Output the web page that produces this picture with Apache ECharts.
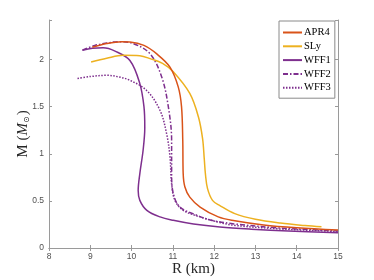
<!DOCTYPE html>
<html>
<head>
<meta charset="utf-8">
<script src="https://cdn.jsdelivr.net/npm/echarts@6/dist/echarts.min.js"></script>
<style>html,body{margin:0;padding:0;background:#fff;}#c{width:374px;height:280px;}</style>
</head>
<body>
<div id="c"></div>
<script>
var xTicks = [8, 9, 10, 11, 12, 13, 14, 15];
var yTicks = [0, 0.5, 1, 1.5, 2];
var seriesNames = ['APR4', 'SLy', 'WFF1', 'WFF2', 'WFF3'];

var apr4R = [9.05, 9.4, 9.76, 9.96, 10.3, 10.61, 10.93, 11.13, 11.21, 11.24, 11.25, 11.29, 11.41, 11.66, 12.1, 12.5, 13.2, 14.0, 15.0];
var apr4M = [2.13, 2.17, 2.19, 2.187, 2.15, 2.06, 1.92, 1.71, 1.50, 1.14, 0.79, 0.65, 0.54, 0.435, 0.33, 0.29, 0.245, 0.215, 0.19];

var slyR = [9.02, 9.4, 9.8, 10.2, 10.45, 10.75, 11.01, 11.41, 11.62, 11.72, 11.76, 11.79, 11.84, 11.96, 12.14, 12.5, 13.0, 13.6, 14.2, 14.6];
var slyM = [1.975, 2.015, 2.045, 2.04, 2.01, 1.96, 1.87, 1.64, 1.39, 1.16, 0.95, 0.78, 0.63, 0.506, 0.45, 0.365, 0.305, 0.265, 0.238, 0.225];

var wff1R = [8.81, 9.05, 9.31, 9.6, 9.96, 10.2, 10.30, 10.32, 10.28, 10.20, 10.16, 10.20, 10.37, 10.69, 11.01, 11.5, 12.14, 12.9, 13.8, 15.0];
var wff1M = [2.10, 2.12, 2.125, 2.09, 1.99, 1.745, 1.50, 1.28, 1.04, 0.79, 0.61, 0.506, 0.40, 0.33, 0.294, 0.255, 0.223, 0.2, 0.18, 0.162];

var wff2R = [8.81, 9.11, 9.4, 9.68, 10.04, 10.45, 10.73, 10.89, 10.97, 10.97, 11.01, 11.17, 11.58, 11.94, 12.5, 13.5, 14.3, 15.0];
var wff2M = [2.10, 2.15, 2.175, 2.19, 2.17, 2.06, 1.815, 1.50, 1.14, 0.79, 0.58, 0.435, 0.347, 0.294, 0.255, 0.215, 0.195, 0.18];

var wff3R = [8.69, 9.0, 9.4, 9.7, 9.96, 10.37, 10.69, 10.85, 10.93, 10.97, 11.05, 11.25, 11.66, 12.14, 12.5, 13.5, 14.3, 15.0];
var wff3M = [1.80, 1.82, 1.833, 1.815, 1.78, 1.67, 1.46, 1.21, 0.97, 0.68, 0.506, 0.40, 0.33, 0.27, 0.24, 0.205, 0.188, 0.175];

function pairs(r, m) { return r.map(function (v, i) { return [v, m[i]]; }); }

var colors = ['#D95319', '#EDB120', '#7E2F8E', '#7E2F8E', '#7E2F8E'];
var dashes = ['solid', 'solid', 'solid', [5, 2, 1.5, 2], [1.5, 1.5]];
var datas = [pairs(apr4R, apr4M), pairs(slyR, slyM), pairs(wff1R, wff1M), pairs(wff2R, wff2M), pairs(wff3R, wff3M)];

var axisColor = '#9a9a9a';
var labelColor = '#505050';
var serif = '"Liberation Serif", "DejaVu Serif", serif';

var chart = echarts.init(document.getElementById('c'), null, { renderer: 'canvas' });
chart.setOption({
  animation: false,
  backgroundColor: '#fff',
  grid: { left: 49, right: 36, top: 20, bottom: 32, containLabel: false, outerBoundsMode: 'none' },
  legend: {
    orient: 'vertical',
    left: 279,
    top: 21,
    width: 55,
    data: seriesNames,
    itemWidth: 19,
    itemHeight: 9,
    itemGap: 2.8,
    padding: [6, 4, 5, 3],
    backgroundColor: '#fff',
    borderColor: '#8a8a8a',
    borderWidth: 1,
    borderRadius: 0,
    itemStyle: { opacity: 0 },
    textStyle: { fontFamily: serif, fontSize: 10.5, color: '#000', padding: [0, 0, 0, -3] }
  },
  xAxis: [{
    type: 'value', min: 8, max: 15, interval: 1, position: 'bottom',
    name: 'R (km)', nameLocation: 'middle', nameGap: 14, nameMoveOverlap: false,
    nameTextStyle: { fontFamily: serif, fontSize: 15, color: '#262626' },
    axisLine: { show: true, lineStyle: { color: axisColor, width: 1 } },
    axisTick: { show: true, inside: true, length: 3, lineStyle: { color: axisColor } },
    axisLabel: { color: labelColor, fontSize: 8.5, margin: 4, fontFamily: 'Liberation Sans, Arial, sans-serif',
      formatter: function (v) { return xTicks.indexOf(v) >= 0 ? String(v) : ''; } },
    splitLine: { show: false }
  }, {
    type: 'value', min: 8, max: 15, interval: 1, position: 'top',
    axisLine: { show: true, lineStyle: { color: axisColor, width: 1 } },
    axisTick: { show: true, inside: true, length: 3, lineStyle: { color: axisColor } },
    axisLabel: { show: false }, splitLine: { show: false }
  }],
  yAxis: [{
    type: 'value', min: 0, max: 2.42, interval: 0.5, position: 'left',
    name: '{a|M (}{b|M}{c|⊙}{a|)}', nameLocation: 'middle', nameGap: 18, nameMoveOverlap: false,
    nameTextStyle: {
      fontFamily: serif, fontSize: 15, color: '#262626',
      rich: {
        a: { fontFamily: serif, fontSize: 15, color: '#262626' },
        b: { fontFamily: serif, fontSize: 15, fontStyle: 'italic', color: '#262626' },
        c: { fontFamily: 'DejaVu Sans', fontSize: 8, color: '#262626', verticalAlign: 'bottom', padding: [6, 1, 0, 0] }
      }
    },
    axisLine: { show: true, lineStyle: { color: axisColor, width: 1 } },
    axisTick: { show: true, inside: true, length: 3, lineStyle: { color: axisColor } },
    axisLabel: { color: labelColor, fontSize: 8.5, margin: 5, fontFamily: 'Liberation Sans, Arial, sans-serif',
      formatter: function (v) { return yTicks.indexOf(v) >= 0 ? String(v) : ''; } },
    splitLine: { show: false }
  }, {
    type: 'value', min: 0, max: 2.42, interval: 0.5, position: 'right',
    axisLine: { show: true, lineStyle: { color: axisColor, width: 1 } },
    axisTick: { show: true, inside: true, length: 3, lineStyle: { color: axisColor } },
    axisLabel: { show: false }, splitLine: { show: false }
  }],
  series: seriesNames.map(function (n, i) {
    return {
      name: n, type: 'line', xAxisIndex: 0, yAxisIndex: 0,
      data: datas[i], smooth: 0.35, showSymbol: false, symbol: 'none',
      lineStyle: { color: colors[i], width: 1.5, type: dashes[i] },
      itemStyle: { color: colors[i] },
      z: 10 - i
    };
  })
});
</script>
</body>
</html>
